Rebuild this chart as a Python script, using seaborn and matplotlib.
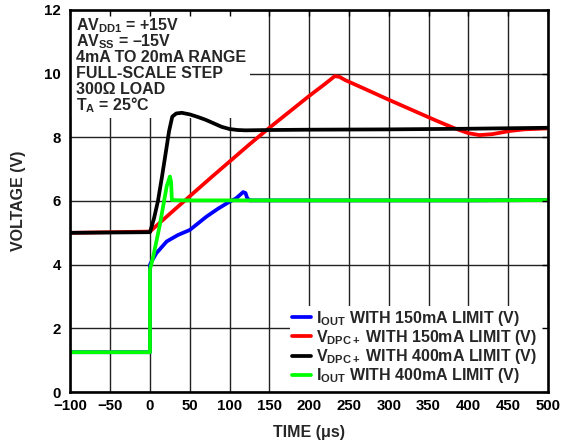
import numpy as np
import pandas as pd
import matplotlib
matplotlib.use("Agg")
import matplotlib.pyplot as plt
import seaborn as sns
from matplotlib.patches import Rectangle

# ---------------- data ----------------
t_iout150 = [-100, 0, 0, 2, 8, 21, 35, 50, 71, 85, 100, 108, 113, 117, 120, 122, 125, 200, 300, 400, 500]
v_iout150 = [1.25, 1.25, 4.0, 4.1, 4.36, 4.73, 4.93, 5.09, 5.51, 5.75, 5.98, 6.08, 6.19, 6.28, 6.25, 6.1, 6.02, 6.02, 6.02, 6.02, 6.03]

t_vdpc150 = [-100, 0, 25, 50, 75, 100, 125, 150, 175, 200, 220, 232, 238, 245, 270, 300, 330, 360, 383, 400, 414, 430, 452, 470, 500]
v_vdpc150 = [5.0, 5.04, 5.6, 6.15, 6.7, 7.24, 7.78, 8.3, 8.8, 9.3, 9.68, 9.92, 9.9, 9.8, 9.52, 9.18, 8.85, 8.52, 8.28, 8.13, 8.07, 8.1, 8.2, 8.25, 8.28]

t_vdpc400 = [-100, 0, 5, 10, 15, 20, 24, 28, 33, 40, 50, 60, 70, 80, 90, 100, 110, 120, 150, 200, 300, 400, 500]
v_vdpc400 = [5.0, 5.02, 5.45, 6.0, 6.75, 7.55, 8.2, 8.65, 8.75, 8.77, 8.72, 8.64, 8.55, 8.44, 8.33, 8.26, 8.23, 8.22, 8.23, 8.24, 8.25, 8.27, 8.3]

t_iout400 = [-100, 0, 0, 4, 12, 21, 25, 26.5, 27.5, 40, 100, 200, 300, 400, 500]
v_iout400 = [1.25, 1.25, 3.85, 4.25, 5.2, 6.46, 6.77, 6.6, 6.03, 6.02, 6.02, 6.02, 6.02, 6.02, 6.03]

series_names = ["iout150", "vdpc150", "vdpc400", "iout400"]
series_labels = [r"I$_{OUT}$ WITH 150mA LIMIT (V)",
                 r"V$_{DPC+}$ WITH 150mA LIMIT (V)",
                 r"V$_{DPC+}$ WITH 400mA LIMIT (V)",
                 r"I$_{OUT}$ WITH 400mA LIMIT (V)"]
series_colors = ["#0000FF", "#FF0000", "#000000", "#00FF00"]

x_ticks = list(range(-100, 501, 50))
y_ticks = list(range(0, 13, 2))

notes = [r"AV$_{DD1}$ = +15V", r"AV$_{SS}$ = –15V", "4mA TO 20mA RANGE",
         "FULL-SCALE STEP", "300Ω LOAD", r"T$_{A}$ = 25°C"]

# ---------------- style ----------------
sns.set_theme(style="white")
plt.rcParams["font.family"] = ["Liberation Sans", "DejaVu Sans"]
plt.rcParams["font.weight"] = "bold"
plt.rcParams["axes.labelweight"] = "bold"
plt.rcParams["mathtext.fontset"] = "custom"
plt.rcParams["mathtext.rm"] = "Liberation Sans:bold"
plt.rcParams["mathtext.it"] = "Liberation Sans:bold"
plt.rcParams["mathtext.bf"] = "Liberation Sans:bold"
plt.rcParams["mathtext.sf"] = "Liberation Sans:bold"
plt.rcParams["axes.unicode_minus"] = True

frames = []
for name, tt, vv in zip(series_names,
                        [t_iout150, t_vdpc150, t_vdpc400, t_iout400],
                        [v_iout150, v_vdpc150, v_vdpc400, v_iout400]):
    frames.append(pd.DataFrame({"t": tt, "v": vv, "series": name}))
df = pd.concat(frames, ignore_index=True)

LW = 2.7
fig = plt.figure(figsize=(5.69, 4.44), dpi=100)
ax = fig.add_axes([0.1237, 0.1171, 0.8394, 0.8604])

sns.lineplot(data=df, x="t", y="v", hue="series", hue_order=series_names,
             palette=dict(zip(series_names, series_colors)),
             estimator=None, sort=False, units="series", linewidth=LW,
             legend=False, ax=ax)
series_lines = list(ax.get_lines())[:4]
for ln in series_lines:
    ln.set_zorder(2)

ax.set_xlim(-100, 500)
ax.set_ylim(0, 12)
ax.set_xticks(x_ticks)
ax.set_yticks(y_ticks)
ax.grid(False)
ax.set_axisbelow(False)
# grid lines drawn underneath the white boxes
for xv in x_ticks:
    ax.axvline(xv, color="#222222", linewidth=1.0, zorder=0.4)
for yv in y_ticks:
    ax.axhline(yv, color="#222222", linewidth=1.0, zorder=0.4)

for sp in ax.spines.values():
    sp.set_visible(True)
    sp.set_color("black")
    sp.set_linewidth(1.9)
ax.tick_params(direction="in", length=4, width=1, top=True, right=True,
               labelsize=10.8, colors="black")
ax.tick_params(axis="y", pad=7)
ax.tick_params(axis="x", pad=5)
for lab in ax.get_xticklabels() + ax.get_yticklabels():
    lab.set_fontweight("bold")

ax.set_xlabel("TIME (μs)", fontsize=11.5, fontweight="bold", labelpad=9)
ax.set_ylabel("VOLTAGE (V)", fontsize=11.5, fontweight="bold", labelpad=13)

# white box behind conditions text
ax.add_patch(Rectangle((0, 0.717), 0.376, 0.283, transform=ax.transAxes,
                       facecolor="white", edgecolor="none", zorder=1))
baselines_px = [30.0, 46.0, 62.2, 78.2, 94.3, 110.3]
for txt, bpx in zip(notes, baselines_px):
    ax.text(0.012, (392 - bpx) / 382, txt, transform=ax.transAxes,
            fontsize=11.5, fontweight="bold", va="baseline", ha="left", zorder=1.5)

# white box behind legend
ax.add_patch(Rectangle((0.46, 0), 0.54, 0.225, transform=ax.transAxes,
                       facecolor="white", edgecolor="none", zorder=1))
leg = ax.legend(series_lines, series_labels, loc="center left",
                bbox_to_anchor=((292 - 70.4) / 477.6, (392 - 347) / 382),
                borderaxespad=0, borderpad=0, fontsize=11.5, frameon=False,
                handlelength=1.2, handletextpad=0.3, labelspacing=0.02)
leg.set_zorder(1.6)
for h in leg.legend_handles:
    h.set_linewidth(LW)

fig.savefig("out.png", dpi=100)
